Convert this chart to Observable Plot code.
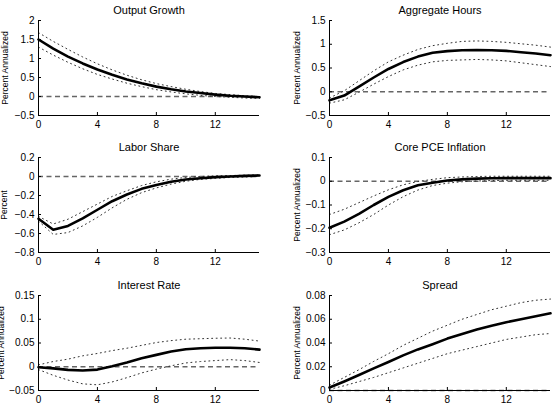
<!DOCTYPE html>
<html>
<head>
<meta charset="utf-8">
<script src="https://cdn.jsdelivr.net/npm/d3@7"></script>
<script src="https://cdn.jsdelivr.net/npm/@observablehq/plot@0.6"></script>
<style>
  body { margin: 0; background: #fff; }
  #fig { position: relative; width: 553px; height: 418px; overflow: hidden; background: #fff; }
  #fig svg { position: absolute; overflow: visible; }
</style>
</head>
<body>
<div id="fig"></div>
<script>
// Impulse responses, quarters after the shock
const quarters = [0, 1, 2, 3, 4, 5, 6, 7, 8, 9, 10, 11, 12, 13, 14, 15];
const xTicks = [0, 4, 8, 12];

// Output growth (percent annualized): median and error bands
const outputGrowth   = [1.50, 1.26, 1.05, 0.87, 0.71, 0.57, 0.45, 0.35, 0.26, 0.19, 0.13, 0.09, 0.05, 0.02, 0.00, -0.02];
const outputGrowthHi = [1.68, 1.45, 1.24, 1.04, 0.86, 0.70, 0.56, 0.44, 0.34, 0.26, 0.19, 0.13, 0.08, 0.05, 0.02, 0.00];
const outputGrowthLo = [1.30, 1.09, 0.90, 0.73, 0.58, 0.46, 0.35, 0.26, 0.18, 0.12, 0.07, 0.03, 0.00, -0.02, -0.04, -0.05];
const outputGrowthTicks = [-0.5, 0, 0.5, 1, 1.5, 2];

// Aggregate hours (percent annualized)
const hours   = [-0.18, -0.08, 0.11, 0.30, 0.48, 0.625, 0.74, 0.82, 0.855, 0.875, 0.88, 0.875, 0.86, 0.83, 0.805, 0.77];
const hoursHi = [-0.13, 0.02, 0.23, 0.44, 0.63, 0.77, 0.89, 0.97, 1.02, 1.06, 1.07, 1.06, 1.04, 1.01, 0.98, 0.94];
const hoursLo = [-0.24, -0.17, -0.01, 0.16, 0.32, 0.46, 0.56, 0.63, 0.66, 0.67, 0.68, 0.67, 0.65, 0.61, 0.57, 0.53];
const hoursTicks = [-0.5, 0, 0.5, 1, 1.5];

// Labor share (percent)
const laborShare   = [-0.445, -0.56, -0.52, -0.44, -0.35, -0.26, -0.19, -0.13, -0.09, -0.056, -0.032, -0.018, -0.007, 0.0, 0.007, 0.01];
const laborShareHi = [-0.42, -0.50, -0.45, -0.37, -0.29, -0.21, -0.15, -0.095, -0.056, -0.028, -0.01, 0.0, 0.007, 0.01, 0.014, 0.018];
const laborShareLo = [-0.47, -0.61, -0.59, -0.52, -0.43, -0.33, -0.24, -0.17, -0.12, -0.08, -0.05, -0.03, -0.02, -0.01, -0.005, 0.0];
const laborShareTicks = [-0.8, -0.6, -0.4, -0.2, 0, 0.2];

// Core PCE inflation (percent annualized)
const corePce   = [-0.196, -0.17, -0.137, -0.10, -0.066, -0.038, -0.017, -0.006, 0.003, 0.008, 0.011, 0.0125, 0.013, 0.013, 0.013, 0.013];
const corePceHi = [-0.14, -0.118, -0.09, -0.062, -0.036, -0.015, -0.001, 0.008, 0.015, 0.018, 0.02, 0.021, 0.021, 0.021, 0.021, 0.021];
const corePceLo = [-0.225, -0.205, -0.175, -0.14, -0.10, -0.065, -0.037, -0.018, -0.008, -0.002, 0.001, 0.003, 0.004, 0.004, 0.004, 0.004];
const corePceTicks = [-0.3, -0.2, -0.1, 0, 0.1];

// Interest rate (percent annualized)
const interestRate   = [-0.001, -0.0035, -0.0065, -0.008, -0.006, 0.001, 0.009, 0.018, 0.025, 0.032, 0.037, 0.039, 0.040, 0.040, 0.039, 0.036];
const interestRateHi = [0.004, 0.011, 0.016, 0.023, 0.028, 0.034, 0.039, 0.045, 0.051, 0.055, 0.058, 0.059, 0.060, 0.0605, 0.058, 0.054];
const interestRateLo = [-0.006, -0.018, -0.028, -0.036, -0.038, -0.032, -0.023, -0.013, -0.005, 0.002, 0.008, 0.011, 0.013, 0.015, 0.013, 0.009];
const interestRateTicks = [-0.05, 0, 0.05, 0.1, 0.15];

// Spread (percent annualized)
const spread   = [0.0025, 0.0076, 0.013, 0.0186, 0.024, 0.0296, 0.0346, 0.039, 0.0437, 0.0476, 0.0513, 0.0546, 0.0575, 0.06, 0.0625, 0.065];
const spreadHi = [0.0045, 0.011, 0.0175, 0.0245, 0.031, 0.038, 0.044, 0.050, 0.055, 0.060, 0.064, 0.068, 0.071, 0.074, 0.076, 0.077];
const spreadLo = [0.001, 0.004, 0.0075, 0.011, 0.015, 0.019, 0.023, 0.027, 0.031, 0.034, 0.037, 0.040, 0.043, 0.045, 0.047, 0.048];
const spreadTicks = [0, 0.02, 0.04, 0.06, 0.08];

const panels = [
  {title: "Output Growth",       ylabel: "Percent Annualized", mid: outputGrowth, hi: outputGrowthHi, lo: outputGrowthLo, ticks: outputGrowthTicks, col: 0, row: 0, labelX: 5},
  {title: "Aggregate Hours",     ylabel: "Percent Annualized", mid: hours,        hi: hoursHi,        lo: hoursLo,        ticks: hoursTicks,        col: 1, row: 0, labelX: 296.5},
  {title: "Labor Share",         ylabel: "Percent",            mid: laborShare,   hi: laborShareHi,   lo: laborShareLo,   ticks: laborShareTicks,   col: 0, row: 1, labelX: 4},
  {title: "Core PCE Inflation",  ylabel: "Percent Annualized", mid: corePce,      hi: corePceHi,      lo: corePceLo,      ticks: corePceTicks,      col: 1, row: 1, labelX: 296.5},
  {title: "Interest Rate",       ylabel: "Percent Annualized", mid: interestRate, hi: interestRateHi, lo: interestRateLo, ticks: interestRateTicks, col: 0, row: 2, labelX: 0.5},
  {title: "Spread",              ylabel: "Percent Annualized", mid: spread,       hi: spreadHi,       lo: spreadLo,       ticks: spreadTicks,       col: 1, row: 2, labelX: 296.5}
];

// Layout of the 3x2 grid
const columns = [
  {left: 0,   width: 276, marginLeft: 38, marginRight: 17},
  {left: 276, width: 277, marginLeft: 53, marginRight: 3}
];
const rowTops = [0, 137, 275];
const svgHeight = 137, marginTop = 20, marginBottom = 22;
const frameH = svgHeight - marginTop - marginBottom;

const fmt = d => (d < 0 ? "\u2212" + String(-d) : String(d));
const fig = document.getElementById("fig");

for (const p of panels) {
  const c = columns[p.col];
  const frameW = c.width - c.marginLeft - c.marginRight;
  const yMin = p.ticks[0], yMax = p.ticks[p.ticks.length - 1];
  const series = arr => quarters.map((q, i) => ({q, v: arr[i]}));

  const chart = Plot.plot({
    width: c.width,
    height: svgHeight,
    marginLeft: c.marginLeft,
    marginRight: c.marginRight,
    marginTop,
    marginBottom,
    style: {background: "transparent", color: "#000", fontFamily: "'Liberation Sans', Arial, Helvetica, sans-serif", fontSize: "10px", overflow: "visible"},
    x: {domain: [0, 15]},
    y: {domain: [yMin, yMax]},
    marks: [
      // zero reference line
      Plot.ruleY([0], {stroke: "#666", strokeWidth: 1.3, strokeDasharray: "5,3.5"}),
      // error bands
      Plot.lineY(series(p.hi), {x: "q", y: "v", stroke: "#333", strokeWidth: 1, strokeDasharray: "1,3.5"}),
      Plot.lineY(series(p.lo), {x: "q", y: "v", stroke: "#333", strokeWidth: 1, strokeDasharray: "1,3.5"}),
      // median response
      Plot.lineY(series(p.mid), {x: "q", y: "v", stroke: "#000", strokeWidth: 2.6}),
      // left and bottom axis lines with inward ticks
      Plot.ruleX([0], {stroke: "#000", strokeWidth: 1}),
      Plot.ruleY([yMin], {stroke: "#000", strokeWidth: 1}),
      Plot.tickX(xTicks, {x: d => d, insetTop: frameH - 3, stroke: "#000"}),
      Plot.tickY(p.ticks, {y: d => d, insetRight: frameW - 3, stroke: "#000"}),
      Plot.axisX({ticks: xTicks, tickSize: 0, tickPadding: 5, label: null, tickFormat: fmt}),
      Plot.axisY({ticks: p.ticks, tickSize: 0, tickPadding: 4, label: null, tickFormat: fmt}),
      // panel title and y-axis label
      Plot.text([p.title], {frameAnchor: "top", dy: -7, lineAnchor: "bottom", fontSize: 11}),
      Plot.text([p.ylabel], {frameAnchor: "left", textAnchor: "middle", lineAnchor: "middle", rotate: -90, dx: p.labelX - (c.left + c.marginLeft), fontSize: 8.5})
    ]
  });
  chart.style.left = c.left + "px";
  chart.style.top = rowTops[p.row] + "px";
  fig.appendChild(chart);
}
</script>
</body>
</html>
